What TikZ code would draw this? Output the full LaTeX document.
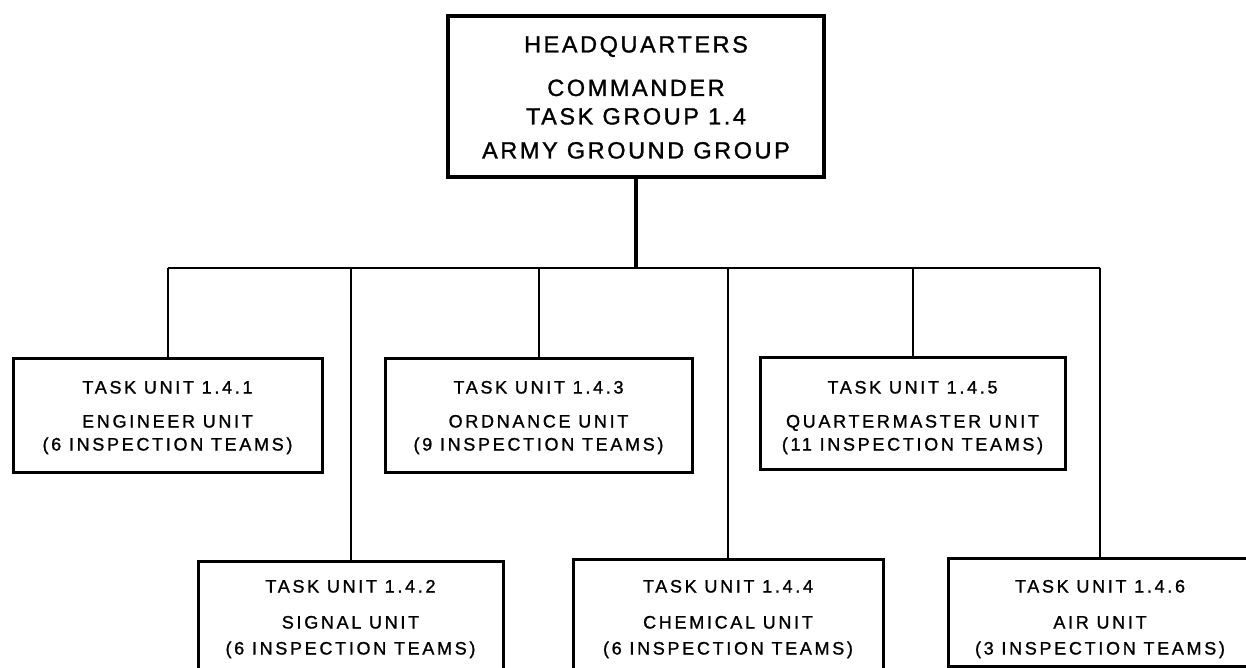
\documentclass[tikz,border=0pt]{standalone}
\usepackage{fontspec}
\newfontfamily\hqfont[LetterSpace=11,FakeBold=1.2]{Liberation Sans}
\newfontfamily\unitfont[LetterSpace=15,FakeBold=1.2]{Liberation Sans}
\begin{document}
\begin{tikzpicture}[x=1pt,y=-1pt,
  hqbox/.style={draw, line width=3.5pt, rectangle, inner sep=0pt},
  unitbox/.style={draw, line width=3pt, rectangle, inner sep=0pt},
  hqtext/.style={anchor=base, inner sep=0pt, font=\hqfont\fontsize{23.5}{28}\selectfont},
  unittext/.style={anchor=base, inner sep=0pt, font=\unitfont\fontsize{18}{22}\selectfont},
  trunk/.style={line width=3.5pt},
  link/.style={line width=2pt}]
\useasboundingbox (0,0) rectangle (1246,668);
\clip (0,0) rectangle (1246,668);

% headquarters
\node[hqbox, minimum width=376pt, minimum height=161pt] (hq) at (636,96.5) {};
\node[hqtext] (hq1) at (636,52.5) {HEADQUARTERS};
\node[hqtext] (hq2) at (636,96) {COMMANDER};
\node[hqtext] (hq3) at (636,124.5) {TASK GROUP 1.4};
\node[hqtext] (hq4) at (636,158.5) {ARMY GROUND GROUP};

% first row of task units
\node[unitbox, minimum width=309pt, minimum height=114pt] (u141) at (167.5,415) {};
\node[unittext] (u141a) at (167.5,393.5) {TASK UNIT 1.4.1};
\node[unittext] (u141b) at (167.5,427.5) {ENGINEER UNIT};
\node[unittext] (u141c) at (167.5,450.5) {(6 INSPECTION TEAMS)};

\node[unitbox, minimum width=307pt, minimum height=114pt] (u143) at (538.5,415) {};
\node[unittext] (u143a) at (538.5,393.5) {TASK UNIT 1.4.3};
\node[unittext] (u143b) at (538.5,427.5) {ORDNANCE UNIT};
\node[unittext] (u143c) at (538.5,450.5) {(9 INSPECTION TEAMS)};

\node[unitbox, minimum width=305pt, minimum height=112pt] (u145) at (912.5,413) {};
\node[unittext] (u145a) at (912.5,393.5) {TASK UNIT 1.4.5};
\node[unittext] (u145b) at (912.5,427.5) {QUARTERMASTER UNIT};
\node[unittext] (u145c) at (912.5,450.5) {(11 INSPECTION TEAMS)};

% second row of task units
\node[unitbox, minimum width=305pt, minimum height=115pt] (u142) at (350.5,618.5) {};
\node[unittext] (u142a) at (350.5,592.5) {TASK UNIT 1.4.2};
\node[unittext] (u142b) at (350.5,628.5) {SIGNAL UNIT};
\node[unittext] (u142c) at (350.5,654.5) {(6 INSPECTION TEAMS)};

\node[unitbox, minimum width=310pt, minimum height=115pt] (u144) at (728,616.5) {};
\node[unittext] (u144a) at (728,592.5) {TASK UNIT 1.4.4};
\node[unittext] (u144b) at (728,628.5) {CHEMICAL UNIT};
\node[unittext] (u144c) at (728,654.5) {(6 INSPECTION TEAMS)};

\node[unitbox, minimum width=304pt, minimum height=108pt] (u146) at (1100,612) {};
\node[unittext] (u146a) at (1100,592.5) {TASK UNIT 1.4.6};
\node[unittext] (u146b) at (1100,628.5) {AIR UNIT};
\node[unittext] (u146c) at (1100,654.5) {(3 INSPECTION TEAMS)};

% connectors: trunk, bus and drops to each unit
\coordinate (bus) at (0,268);
\draw[trunk] (hq.south) -- (hq.south |- bus);
\draw[link] (u141.north |- bus) -- (u146.north |- bus);
\foreach \u in {u141,u142,u143,u144,u145,u146}
  \draw[link] (\u.north |- bus) -- (\u.north);
\end{tikzpicture}
\end{document}
